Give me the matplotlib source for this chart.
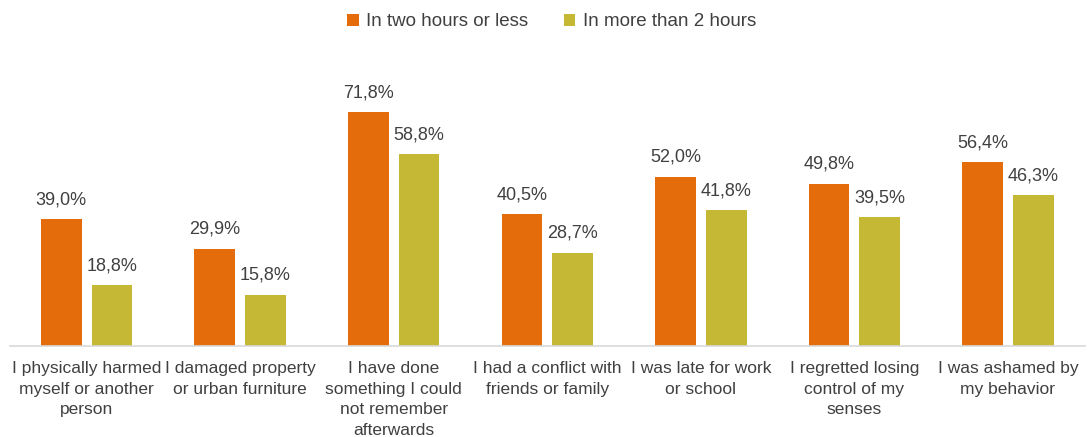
import matplotlib
matplotlib.use("Agg")
import matplotlib.pyplot as plt
import numpy as np

plt.rcParams['font.family'] = ['Liberation Sans', 'DejaVu Sans']

categories = [
    "I physically harmed\nmyself or another\nperson",
    "I damaged property\nor urban furniture",
    "I have done\nsomething I could\nnot remember\nafterwards",
    "I had a conflict with\nfriends or family",
    "I was late for work\nor school",
    "I regretted losing\ncontrol of my\nsenses",
    "I was ashamed by\nmy behavior",
]
series_names = ["In two hours or less", "In more than 2 hours"]
two_hours_or_less = [39.0, 29.9, 71.8, 40.5, 52.0, 49.8, 56.4]
more_than_2_hours = [18.8, 15.8, 58.8, 28.7, 41.8, 39.5, 46.3]

colors = ["#E46C0A", "#C5B834"]
text_color = "#404040"

fig = plt.figure(figsize=(10.88, 4.37), dpi=100)
ax = fig.add_axes([0.009, 0.208, 0.988, 0.597])

x = np.arange(len(categories))
w = 0.265
gap = 0.065
off = (w + gap) / 2
for vals, dx, c, name in [(two_hours_or_less, -off, colors[0], series_names[0]),
                          (more_than_2_hours, off, colors[1], series_names[1])]:
    bars = ax.bar(x + dx, vals, width=w, color=c, label=name)
    for b, v in zip(bars, vals):
        ax.text(b.get_x() + b.get_width() / 2, v + 3.3,
                f"{v:.1f}%".replace(".", ","), ha="center", va="bottom",
                fontsize=13, color=text_color)

ax.set_xlim(-0.5, len(categories) - 0.5)
ax.set_ylim(0, 80)
ax.set_yticks([])
ax.set_xticks(x)
ax.set_xticklabels(categories, fontsize=12.5, color=text_color, linespacing=1.45)
ax.tick_params(axis="x", length=0, pad=11)
for s in ["top", "right", "left"]:
    ax.spines[s].set_visible(False)
ax.spines["bottom"].set_color("#D9D9D9")
ax.spines["bottom"].set_linewidth(1.2)

leg = fig.legend(loc="upper center", bbox_to_anchor=(0.507, 1.008), ncol=2,
                 frameon=False, fontsize=13.5, handlelength=0.6, handleheight=0.6,
                 handletextpad=0.4, columnspacing=1.9)
for t in leg.get_texts():
    t.set_color(text_color)

fig.savefig("out.png", dpi=100)
